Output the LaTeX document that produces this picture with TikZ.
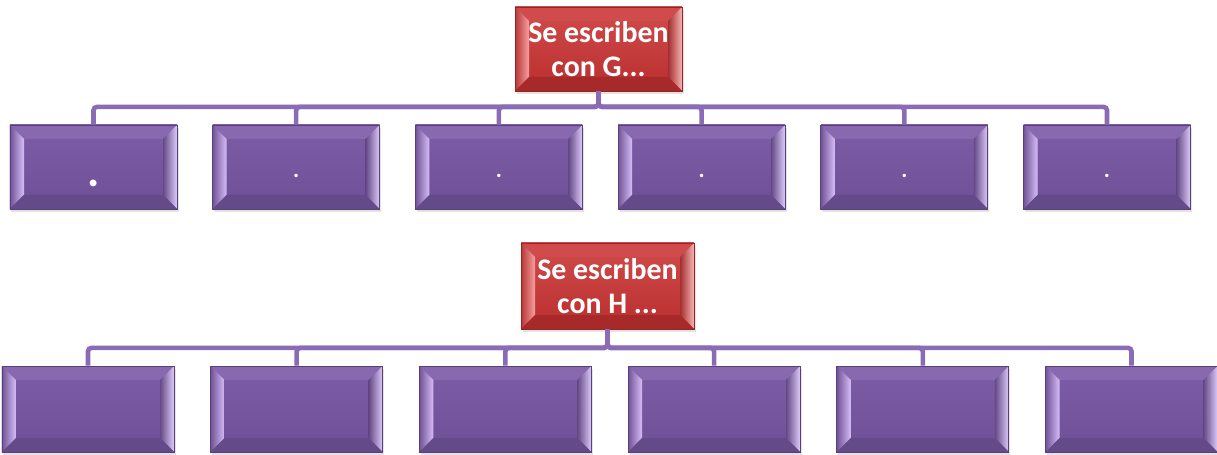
\documentclass[tikz,border=0pt]{standalone}
\usepackage{fontspec}
\setmainfont{Carlito}
\usetikzlibrary{positioning,calc,shadows}

\definecolor{vio}{RGB}{126,92,168}
\definecolor{viodark}{RGB}{110,80,150}
\definecolor{violight}{RGB}{214,190,248}
\definecolor{violine}{RGB}{138,108,182}
\definecolor{rojo}{RGB}{204,60,60}
\definecolor{rojodark}{RGB}{186,46,46}
\definecolor{rojolight}{RGB}{246,160,160}

\newcommand{\bev}{0.28cm}

\tikzset{
    bevel/.style n args={4}{% main, light, outline side, bottom face
                    path picture={
                        \coordinate (bnw) at (path picture bounding box.north west);
                        \coordinate (bse) at (path picture bounding box.south east);
                        \coordinate (bne) at (bnw -| bse);
                        \coordinate (bsw) at (bnw |- bse);
                        \fill[#1!92!white] (bnw) -- (bne) -- ($(bne)+(-\bev,-\bev)$) -- ($(bnw)+(\bev,-\bev)$) -- cycle;
                        \shade[left color=#1!90!black, right color=#2] (bnw) -- ($(bnw)+(\bev,-\bev)$) -- ($(bsw)+(\bev,\bev)$) -- (bsw) -- cycle;
                        \shade[left color=#3, right color=#2!80!white] (bne) -- ($(bne)+(-\bev,-\bev)$) -- ($(bse)+(-\bev,\bev)$) -- (bse) -- cycle;
                        \fill[#4] (bsw) -- ($(bsw)+(\bev,\bev)$) -- ($(bse)+(-\bev,\bev)$) -- (bse) -- cycle;
                    }},
    vbox/.style =   {rectangle,
                    top color=vio,
                    bottom color=viodark,
                    draw=viodark!80!black,
                    line width=0.4pt,
                    minimum width=3.34cm,
                    minimum height=1.68cm,
                    text=white,
                    font=\fontsize{13}{15}\selectfont\bfseries,
                    drop shadow={opacity=0.22, shadow xshift=0.03cm, shadow yshift=-0.06cm},
                    bevel={vio}{violight}{vio!80!black}{viodark!92!black}},
    hbox/.style =   {vbox,
                    minimum width=3.44cm,
                    minimum height=1.72cm},
    rbox/.style =   {rectangle,
                    top color=rojo!92!white,
                    bottom color=rojodark,
                    draw=rojodark!80!black,
                    line width=0.4pt,
                    minimum width=3.34cm,
                    minimum height=1.68cm,
                    align=center,
                    text=white,
                    font=\fontsize{17}{19}\selectfont\bfseries,
                    drop shadow={opacity=0.22, shadow xshift=0.03cm, shadow yshift=-0.06cm},
                    bevel={rojo}{rojolight}{rojo!80!black}{rojodark!90!black}},
    conn/.style =   {draw=violine,
                    line width=2.6pt,
                    rounded corners=2pt},
}

\begin{document}
\begin{tikzpicture}[node distance=0.7cm]
    \useasboundingbox (0,0) rectangle (24.34,-9.1);
    % G
    \node[rbox]    (gG) at (11.97,-0.98)    {Se escriben\\con G...};
    \node[vbox, text height=0.8cm, font=\fontsize{26}{28}\selectfont\bfseries]
                   (g1) at (1.87,-3.34)     {.};
    \node[vbox, text height=0.44cm] (g2) [right=of g1] {.};
    \node[vbox, text height=0.44cm] (g3) [right=of g2] {.};
    \node[vbox, text height=0.44cm] (g4) [right=of g3] {.};
    \node[vbox, text height=0.44cm] (g5) [right=of g4] {.};
    \node[vbox, text height=0.44cm] (g6) [right=of g5] {.};
    \foreach \i in {1,...,6}
        \draw[conn] (gG.south) -- ++(0,-0.31) -| (g\i.north);
    % H
    \node[rbox, minimum width=3.46cm, minimum height=1.72cm]
                   (gH) at (12.15,-5.72)    {Se escriben\\con H ...};
    \begin{scope}[node distance=0.72cm]
        \node[hbox] (h1) at (1.76,-8.18) {};
        \node[hbox] (h2) [right=of h1]   {};
        \node[hbox] (h3) [right=of h2]   {};
        \node[hbox] (h4) [right=of h3]   {};
        \node[hbox] (h5) [right=of h4]   {};
        \node[hbox] (h6) [right=of h5]   {};
    \end{scope}
    \foreach \i in {1,...,6}
        \draw[conn] (gH.south) -- ++(0,-0.37) -| (h\i.north);
\end{tikzpicture}
\end{document}
